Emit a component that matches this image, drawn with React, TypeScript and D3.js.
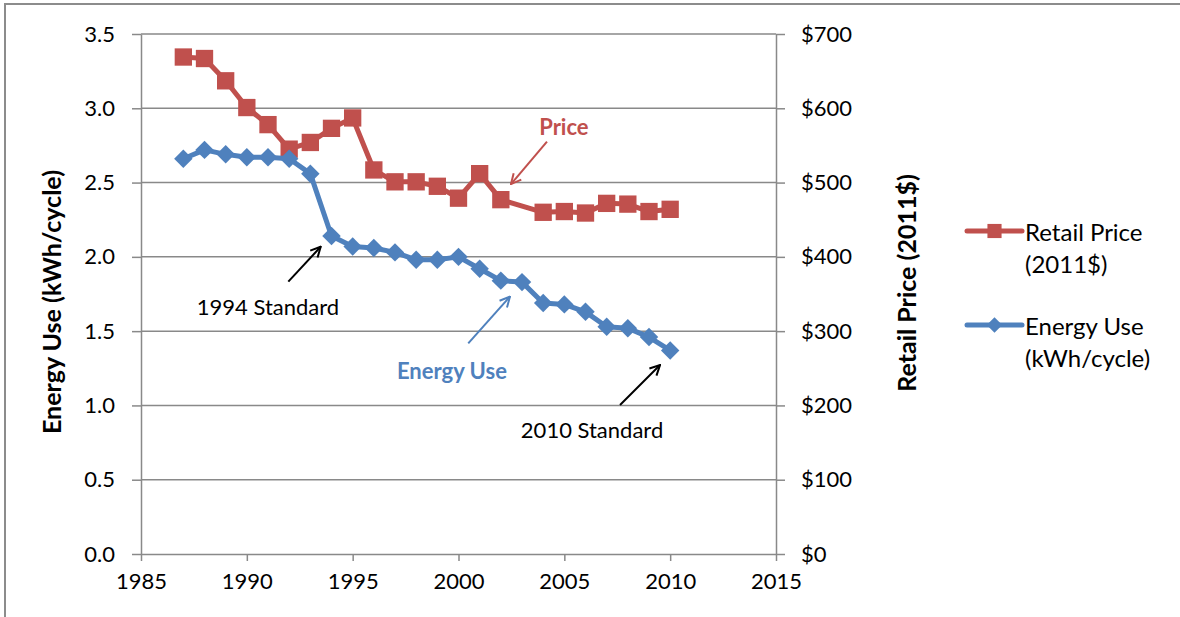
import React, { useRef, useEffect } from 'react';
import * as d3 from 'd3';

// chart values
const years = [1987, 1988, 1989, 1990, 1991, 1992, 1993, 1994, 1995, 1996, 1997, 1998,
  1999, 2000, 2001, 2002, 2003, 2004, 2005, 2006, 2007, 2008, 2009, 2010];

const energyUse = [2.66, 2.72, 2.69, 2.67, 2.67, 2.66, 2.56, 2.14, 2.07, 2.06, 2.03, 1.98,
  1.98, 2.00, 1.92, 1.84, 1.83, 1.69, 1.68, 1.63, 1.53, 1.52, 1.46, 1.37];

// no price recorded for 2003
const retailPrice: (number | null)[] = [669, 667, 637, 601, 578, 545, 554, 573, 587, 517, 501, 501,
  495, 479, 512, 477, null, 460, 461, 459, 472, 471, 461, 464];

const xTicks = [1985, 1990, 1995, 2000, 2005, 2010, 2015];
const energyTicks = [0, 0.5, 1.0, 1.5, 2.0, 2.5, 3.0, 3.5];
const priceTicks = [0, 100, 200, 300, 400, 500, 600, 700];

const legendItems = [
  { lines: ['Retail Price', '(2011$)'], color: '#C0504D', shape: 'square' },
  { lines: ['Energy Use', '(kWh/cycle)'], color: '#4F81BD', shape: 'diamond' }
];

// annotations in data units (year, kWh/cycle)
const annotations = [
  { text: 'Price', color: '#C0504D', bold: true, tx: 2004.98, ty: 2.88, from: [2004.18, 2.775], to: [2002.48, 2.49] },
  { text: 'Energy Use', color: '#4F81BD', bold: true, tx: 1999.69, ty: 1.232, from: [2000.46, 1.418], to: [2002.43, 1.732] },
  { text: '1994 Standard', color: '#000000', bold: false, tx: 1991.0, ty: 1.669, from: [1991.96, 1.833], to: [1993.49, 2.068] },
  { text: '2010 Standard', color: '#000000', bold: false, tx: 2006.31, ty: 0.84, from: [2007.63, 1.003], to: [2009.52, 1.272] }
];

const FONT = 'Lato, "Open Sans", sans-serif';
const GRID = '#898989';

const App: React.FC = () => {
  const svgRef = useRef<SVGSVGElement>(null);
  const width = 1180;
  const height = 617;

  useEffect(() => {
    if (!svgRef.current) return;
    const svg = d3.select(svgRef.current);
    svg.selectAll('*').remove();

    const plot = { left: 141, right: 776, top: 34, bottom: 554 };

    const x = d3.scaleLinear().domain([1985, 2015]).range([plot.left, plot.right]);
    const yEnergy = d3.scaleLinear().domain([0, 3.5]).range([plot.bottom, plot.top]);
    const yPrice = d3.scaleLinear().domain([0, 700]).range([plot.bottom, plot.top]);

    // outer frame (top and left edges only)
    svg.append('path')
      .attr('d', `M5,${height} L5,4 L${width},4`)
      .attr('fill', 'none')
      .attr('stroke', '#8c8c8c')
      .attr('stroke-width', 2);

    // horizontal gridlines
    svg.append('g')
      .selectAll('line')
      .data(energyTicks.filter(t => t > 0))
      .join('line')
      .attr('x1', plot.left).attr('x2', plot.right)
      .attr('y1', d => yEnergy(d)).attr('y2', d => yEnergy(d))
      .attr('stroke', GRID)
      .attr('stroke-width', 1.5);

    const styleAxis = (g: d3.Selection<SVGGElement, unknown, null, undefined>) => {
      g.select('.domain').attr('stroke', GRID).attr('stroke-width', 1.5);
      g.selectAll('.tick line').attr('stroke', GRID).attr('stroke-width', 1.5);
      g.selectAll('.tick text')
        .attr('fill', '#000')
        .style('font-family', FONT)
        .style('font-size', '22px');
    };

    // left axis
    const leftAxis = svg.append('g')
      .attr('transform', `translate(${plot.left},0)`)
      .call(d3.axisLeft(yEnergy).tickValues(energyTicks).tickFormat(d3.format('.1f')).tickSize(9).tickSizeOuter(0).tickPadding(17));
    styleAxis(leftAxis);

    // right axis
    const rightAxis = svg.append('g')
      .attr('transform', `translate(${plot.right},0)`)
      .call(d3.axisRight(yPrice).tickValues(priceTicks).tickFormat(d => `$${d}`).tickSize(9).tickSizeOuter(0).tickPadding(16));
    styleAxis(rightAxis);

    // bottom axis
    const bottomAxis = svg.append('g')
      .attr('transform', `translate(0,${plot.bottom})`)
      .call(d3.axisBottom(x).tickValues(xTicks).tickFormat(d3.format('d')).tickSize(7).tickSizeOuter(0).tickPadding(12));
    styleAxis(bottomAxis);

    // axis titles
    svg.append('text')
      .attr('transform', `translate(51,302) rotate(-90)`)
      .attr('text-anchor', 'middle')
      .attr('dominant-baseline', 'central')
      .style('font-family', FONT)
      .style('font-size', '25px')
      .style('font-weight', 'bold')
      .text('Energy Use (kWh/cycle)');

    svg.append('text')
      .attr('transform', `translate(906,283) rotate(-90)`)
      .attr('text-anchor', 'middle')
      .attr('dominant-baseline', 'central')
      .style('font-family', FONT)
      .style('font-size', '25px')
      .style('font-weight', 'bold')
      .text('Retail Price (2011$)');

    const squareSym = d3.symbol().type(d3.symbolSquare).size(300);
    const diamondSym = d3.symbol().type(d3.symbolSquare).size(170);

    // retail price series
    const priceData = years.map((yr, i) => ({ yr, v: retailPrice[i] })).filter(d => d.v !== null) as { yr: number; v: number }[];
    const priceLine = d3.line<{ yr: number; v: number }>()
      .x(d => x(d.yr))
      .y(d => yPrice(d.v));
    svg.append('path')
      .datum(priceData)
      .attr('fill', 'none')
      .attr('stroke', '#C0504D')
      .attr('stroke-width', 5)
      .attr('stroke-linejoin', 'round')
      .attr('d', priceLine);
    svg.append('g')
      .selectAll('path')
      .data(priceData)
      .join('path')
      .attr('transform', d => `translate(${x(d.yr)},${yPrice(d.v)})`)
      .attr('d', squareSym)
      .attr('fill', '#C0504D');

    // energy use series
    const energyData = years.map((yr, i) => ({ yr, v: energyUse[i] }));
    const energyLine = d3.line<{ yr: number; v: number }>()
      .x(d => x(d.yr))
      .y(d => yEnergy(d.v));
    svg.append('path')
      .datum(energyData)
      .attr('fill', 'none')
      .attr('stroke', '#4F81BD')
      .attr('stroke-width', 5)
      .attr('stroke-linejoin', 'round')
      .attr('d', energyLine);
    svg.append('g')
      .selectAll('path')
      .data(energyData)
      .join('path')
      .attr('transform', d => `translate(${x(d.yr)},${yEnergy(d.v)}) rotate(45)`)
      .attr('d', diamondSym)
      .attr('fill', '#4F81BD');

    // annotations with open arrowheads
    const defs = svg.append('defs');
    annotations.forEach((a, i) => {
      defs.append('marker')
        .attr('id', `arrow${i}`)
        .attr('viewBox', '0 0 12 12')
        .attr('refX', 11)
        .attr('refY', 6)
        .attr('markerWidth', 12)
        .attr('markerHeight', 12)
        .attr('markerUnits', 'userSpaceOnUse')
        .attr('orient', 'auto')
        .append('path')
        .attr('d', 'M1,1 L11,6 L1,11')
        .attr('fill', 'none')
        .attr('stroke', a.color)
        .attr('stroke-width', 2);

      svg.append('line')
        .attr('x1', x(a.from[0])).attr('y1', yEnergy(a.from[1]))
        .attr('x2', x(a.to[0])).attr('y2', yEnergy(a.to[1]))
        .attr('stroke', a.color)
        .attr('stroke-width', 2)
        .attr('marker-end', `url(#arrow${i})`);

      svg.append('text')
        .attr('x', x(a.tx))
        .attr('y', yEnergy(a.ty))
        .attr('text-anchor', 'middle')
        .attr('dominant-baseline', 'central')
        .attr('fill', a.color)
        .style('font-family', FONT)
        .style('font-size', '22px')
        .style('font-weight', a.bold ? 'bold' : 'normal')
        .text(a.text);
    });

    // legend
    const legend = svg.append('g').attr('transform', 'translate(967,231)');
    legendItems.forEach((item, i) => {
      const g = legend.append('g').attr('transform', `translate(0,${i * 94})`);
      g.append('line')
        .attr('x1', 0).attr('x2', 55)
        .attr('y1', 0).attr('y2', 0)
        .attr('stroke', item.color)
        .attr('stroke-width', 5)
        .attr('stroke-linecap', 'round');
      g.append('path')
        .attr('transform', item.shape === 'square' ? 'translate(27.5,0)' : 'translate(27.5,0) rotate(45)')
        .attr('d', d3.symbol().type(d3.symbolSquare).size(item.shape === 'square' ? 200 : 120)())
        .attr('fill', item.color);
      item.lines.forEach((ln, j) => {
        g.append('text')
          .attr('x', 58)
          .attr('y', j * 32)
          .attr('dominant-baseline', 'central')
          .style('font-family', FONT)
          .style('font-size', '24px')
          .text(ln);
      });
    });
  }, []);

  return (
    <div style={{ position: 'absolute', left: 0, top: 0 }}>
      <svg ref={svgRef} width={width} height={height} style={{ display: 'block', background: '#fff' }} />
    </div>
  );
};

export default App;
